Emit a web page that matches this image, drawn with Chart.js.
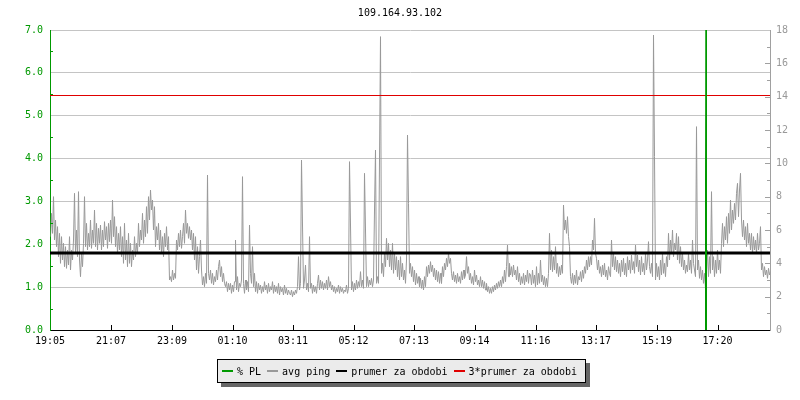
<!DOCTYPE html>
<html>
<head>
<meta charset="utf-8">
<script src="https://cdn.jsdelivr.net/npm/chart.js@4.4.1/dist/chart.umd.min.js"></script>
<style>
  body { margin: 0; background: #fff; }
  #wrap { position: relative; width: 800px; height: 400px; }
  #legend {
    position: absolute; left: 217px; top: 359px; height: 22px;
    display: flex; align-items: center; white-space: nowrap;
    padding: 0 8px 0 4px; background: #ebebeb; border: 1px solid #000;
    box-shadow: 4px 4px 0 #666;
    font: 10px "DejaVu Sans Mono", monospace; color: #000;
  }
  #legend .item { display: flex; align-items: center; margin-right: 6px; }
  #legend .item:last-child { margin-right: 0; }
  #legend .sw { width: 11px; height: 2px; margin-right: 4px; }
</style>
</head>
<body>
<div id="wrap">
  <canvas id="pingChart" width="800" height="400"></canvas>
  <div id="legend"></div>
</div>
<script>
const chartTitle = "109.164.93.102";
const xTickLabels = ["19:05", "21:07", "23:09", "01:10", "03:11", "05:12", "07:13", "09:14", "11:16", "13:17", "15:19", "17:20"];
const spanMinutes = 1440;
const sampleStep = 2; // minutes between ping samples

// avg ping [ms], right axis, one value every 2 minutes from 19:05 (one row = 2 hours)
const avgPing = [
  5.6,7.0,5.8,8.0,5.4,6.6,5.0,6.2,4.4,5.8, 4.0,5.6,4.2,5.2,3.8,5.0,3.7,4.8,3.9,5.6,
  3.6,4.8,4.2,5.4,8.2,4.6,6.0,4.4,8.3,4.2, 3.2,4.6,3.8,5.2,8.0,5.0,6.4,4.8,5.8,5.0,
  6.6,4.9,6.0,5.2,7.2,5.0,6.4,4.8,6.1,5.2, 6.3,4.8,6.0,5.0,6.5,5.4,6.2,4.9,6.4,5.3,

  6.6,5.2,7.8,5.6,6.8,5.0,6.2,4.6,5.8,4.8, 6.2,4.4,5.6,4.0,6.4,4.2,5.4,3.8,5.8,4.0,
  5.2,3.8,4.8,4.2,5.6,4.4,5.2,4.6,6.4,5.0, 6.0,5.4,7.0,5.2,6.6,5.6,7.4,5.8,8.0,6.6,
  8.4,7.2,7.8,6.0,7.4,5.0,6.2,5.4,6.4,4.8, 6.0,4.6,5.6,4.4,5.8,5.0,6.2,4.8,5.6,3.0,

  3.2,2.9,3.6,3.0,3.4,3.1,5.4,4.8,5.8,5.0, 6.0,4.9,5.6,6.4,5.2,7.2,5.8,6.4,5.5,6.2,
  5.4,6.0,4.8,5.8,4.2,5.6,3.6,5.0,3.4,4.4, 5.4,3.6,2.7,3.2,2.6,3.4,2.8,9.3,3.4,3.0,
  3.6,2.8,3.4,2.7,3.2,2.9,3.6,3.0,3.8,4.2, 3.2,3.8,2.9,3.4,2.8,2.6,2.9,2.3,2.8,2.4,

  2.8,2.2,2.7,2.3,2.9,5.4,2.4,3.2,2.3,2.8, 2.6,3.0,9.2,2.8,2.2,3.0,2.4,2.9,2.3,6.3,
  3.4,2.8,5.0,2.6,3.4,2.3,2.9,2.2,2.8,2.4, 2.7,2.2,2.6,2.3,2.9,2.4,2.7,2.2,2.8,2.3,
  2.6,2.4,2.9,2.2,2.7,2.3,2.6,2.2,2.8,2.1, 2.6,2.3,2.5,2.1,2.7,2.2,2.5,2.1,2.4,2.2,

  2.1,2.4,2.0,2.3,2.1,2.4,2.2,2.6,4.4,2.4, 2.8,10.2,6.3,2.5,3.0,3.9,2.4,2.8,2.3,5.6,
  2.5,2.8,2.2,2.7,2.3,2.6,2.2,2.8,3.3,2.4, 3.0,2.5,2.9,2.4,2.8,2.5,3.0,2.4,3.2,2.6,
  2.9,2.4,2.7,2.3,2.6,2.2,2.5,2.3,2.7,2.2, 2.6,2.3,2.5,2.2,2.4,2.3,2.7,2.2,2.5,10.1,

  6.3,2.4,2.9,2.3,2.8,2.4,3.0,2.5,2.9,2.6, 3.5,2.6,3.0,2.5,9.4,6.0,2.6,3.2,2.6,3.0,
  2.7,3.1,2.6,3.0,7.2,10.8,2.8,3.2,2.8,10.2, 17.6,3.4,4.0,3.2,4.6,3.8,5.5,4.2,5.2,3.8,
  4.8,3.6,5.2,3.4,4.6,3.6,4.4,3.2,4.2,3.0, 4.4,3.2,4.0,3.0,3.6,2.8,4.2,11.7,7.6,3.4,

  4.0,3.2,3.8,2.9,3.6,2.7,3.4,2.8,3.2,2.6, 3.1,2.5,3.0,2.4,3.2,2.6,3.8,3.2,3.9,3.4,
  4.1,3.5,3.9,3.2,3.7,3.0,3.6,2.9,3.5,2.8, 3.4,2.8,3.8,3.2,4.0,3.6,4.3,3.8,4.6,4.0,
  4.3,3.4,3.0,3.5,2.9,3.3,2.8,3.4,2.9,3.2, 2.8,3.5,3.0,3.6,3.1,3.3,4.4,3.4,3.8,3.0,

  3.4,2.8,3.2,2.7,3.6,2.9,3.3,2.7,3.0,2.6, 3.2,2.6,3.0,2.5,2.9,2.4,2.8,2.3,2.6,2.2,
  2.5,2.2,2.6,2.3,2.7,2.4,2.8,2.5,2.9,2.6, 3.0,2.6,3.2,2.8,3.6,2.9,3.8,5.1,3.2,4.0,
  3.3,3.8,3.2,3.9,3.3,3.6,3.0,3.8,2.9,3.4, 2.7,3.2,2.8,3.4,2.7,3.3,2.9,3.6,2.8,3.4,

  3.3,2.7,3.6,2.8,3.3,2.6,3.8,2.7,3.4,2.8, 4.2,2.9,3.3,2.7,3.2,2.6,3.1,2.6,3.4,5.8,
  3.6,4.8,3.5,4.4,3.6,5.0,3.4,4.0,3.2,3.8, 3.3,3.9,3.4,7.5,6.0,6.6,5.8,6.8,5.6,5.0,
  3.2,2.8,3.4,2.7,3.3,2.8,3.6,2.7,3.2,3.0, 3.5,2.9,3.6,3.1,3.8,3.4,4.2,3.6,4.4,3.8,

  4.4,3.9,5.4,4.8,6.7,4.6,4.3,3.6,4.2,3.4, 3.8,3.2,3.9,3.3,4.0,3.2,3.6,3.0,3.8,3.4,
  3.2,5.4,3.8,4.6,3.6,4.4,3.5,4.2,3.4,4.0, 3.2,4.2,3.5,4.3,3.3,4.0,3.2,4.4,3.6,4.2,
  3.4,4.5,3.6,4.1,3.4,5.1,3.8,4.5,3.5,4.2, 3.3,4.4,3.5,4.0,3.3,4.6,3.6,4.2,5.3,3.8,

  3.4,4.0,3.2,17.7,10.4,3.0,4.0,3.2,3.8,3.0, 4.2,3.3,4.6,3.4,4.0,3.2,4.4,3.8,5.8,4.2,
  5.4,4.6,6.0,4.4,5.2,4.8,5.8,4.2,5.6,4.0, 5.0,3.8,4.6,3.6,4.2,3.4,3.9,3.5,4.6,3.6,
  4.2,3.4,5.4,4.0,3.6,3.2,12.2,3.6,4.2,3.1, 3.8,3.0,3.6,2.8,3.4,2.5,3.6,4.8,3.2,4.4,

  3.4,8.3,3.6,4.4,3.2,4.2,3.4,4.8,3.6,4.2, 3.4,5.2,6.4,5.0,6.2,5.4,6.8,5.2,7.0,5.8,
  7.8,6.0,7.2,6.4,7.6,6.6,8.2,8.8,6.8,8.4, 9.4,6.6,5.6,6.6,5.4,6.2,5.0,6.4,5.2,5.8,
  4.8,5.8,4.6,5.6,4.8,5.4,4.6,5.8,4.8,5.2, 6.2,3.6,4.0,3.2,3.8,3.3,3.6,3.1,3.7,3.3,
  3.5
];

// packet loss [%], left axis, only around the one event
const plMinutes = [1310, 1311, 1312, 1313];
const plValues = [0, 3.5, 7.0, 0];

const prumer = 4.62;          // prumer za obdobi [ms]
const trojPrumer = 14.07;     // 3*prumer za obdobi [ms]

const colors = {
  pl: "#009900",
  ping: "#999999",
  prumer: "#000000",
  troj: "#e00000"
};

function tickMinutes(labels) {
  const toMin = s => { const [h, m] = s.split(":").map(Number); return h * 60 + m; };
  const start = toMin(labels[0]);
  return labels.map(s => (toMin(s) - start + 1440) % 1440);
}
const xTickValues = tickMinutes(xTickLabels);

const font = { family: "'DejaVu Sans Mono', monospace", size: 10 };

// small inward tick marks like the original rrd-style graph
const tickMarks = {
  id: "tickMarks",
  afterDatasetsDraw(chart) {
    const { ctx, chartArea: a, scales } = chart;
    ctx.save();
    ctx.lineWidth = 1;
    ctx.strokeStyle = "#000";
    xTickValues.forEach((v, i) => {
      if (i === 0) return;
      const px = Math.round(scales.x.getPixelForValue(v)) + 0.5;
      ctx.beginPath(); ctx.moveTo(px, a.bottom - 5); ctx.lineTo(px, a.bottom); ctx.stroke();
    });
    ctx.strokeStyle = colors.pl;
    for (let v = 0.5; v < 7; v += 1) {
      const py = Math.round(scales.y.getPixelForValue(v)) + 0.5;
      ctx.beginPath(); ctx.moveTo(a.left, py); ctx.lineTo(a.left + 3, py); ctx.stroke();
    }
    ctx.strokeStyle = "#a0a0a0";
    for (let v = 1; v < 18; v++) {
      const py = Math.round(scales.y1.getPixelForValue(v)) + 0.5;
      const len = v % 2 === 0 ? 5 : 3;
      ctx.beginPath(); ctx.moveTo(a.right - len, py); ctx.lineTo(a.right, py); ctx.stroke();
    }
    ctx.restore();
  }
};

// draw the 1px ping line on pixel centres so it stays crisp
const crispPing = {
  id: "crispPing",
  beforeDatasetDraw(chart, args) {
    if (args.index !== 1) return;
    chart.ctx.save();
    chart.ctx.translate(0.5, 0);
  },
  afterDatasetDraw(chart, args) {
    if (args.index !== 1) return;
    chart.ctx.restore();
  }
};

const datasets = [
  {
    label: "% PL",
    data: plMinutes.map((m, i) => ({ x: m, y: plValues[i] })),
    yAxisID: "y",
    borderColor: colors.pl,
    borderWidth: 1,
    order: 0
  },
  {
    label: "avg ping",
    data: avgPing.map((v, i) => ({ x: i * sampleStep, y: v })),
    yAxisID: "y1",
    borderColor: colors.ping,
    borderWidth: 1,
    order: 3
  },
  {
    label: "prumer za obdobi",
    data: [{ x: 0, y: prumer }, { x: spanMinutes, y: prumer }],
    yAxisID: "y1",
    borderColor: colors.prumer,
    borderWidth: 3,
    order: 2
  },
  {
    label: "3*prumer za obdobi",
    data: [{ x: 0, y: trojPrumer }, { x: spanMinutes, y: trojPrumer }],
    yAxisID: "y1",
    borderColor: colors.troj,
    borderWidth: 1,
    order: 1
  }
];

const ctx = document.getElementById("pingChart").getContext("2d");
const chart = new Chart(ctx, {
  type: "line",
  data: { datasets: datasets },
  options: {
    responsive: false,
    animation: false,
    devicePixelRatio: 1,
    elements: { point: { radius: 0 }, line: { tension: 0, borderCapStyle: "butt" } },
    layout: { padding: 0 },
    plugins: {
      legend: { display: false },
      tooltip: { enabled: false },
      title: {
        display: true,
        text: chartTitle,
        color: "#000",
        font: { family: font.family, size: 10, weight: "normal" },
        padding: { top: 7, bottom: 11 }
      }
    },
    scales: {
      x: {
        type: "linear",
        min: 0,
        max: spanMinutes,
        afterBuildTicks: scale => { scale.ticks = xTickValues.map(v => ({ value: v })); },
        afterFit: scale => { scale.height = 70; },
        ticks: {
          autoSkip: false,
          maxRotation: 0,
          color: "#000",
          font: font,
          padding: 5,
          callback: (v, i) => xTickLabels[i]
        },
        grid: { display: false, drawTicks: false },
        border: { color: "#000", width: 1 }
      },
      y: {
        position: "left",
        min: 0,
        max: 7,
        afterFit: scale => { scale.width = 50; },
        ticks: {
          stepSize: 1,
          color: colors.pl,
          font: font,
          padding: 7,
          callback: v => v.toFixed(1)
        },
        grid: { color: "#c4c4c4", drawTicks: false },
        border: { color: colors.pl, width: 1 }
      },
      y1: {
        position: "right",
        min: 0,
        max: 18,
        afterFit: scale => { scale.width = 30; },
        ticks: { stepSize: 2, color: "#999", font: font, padding: 6 },
        grid: { drawOnChartArea: false, drawTicks: false },
        border: { color: "#a0a0a0", width: 1 }
      }
    }
  },
  plugins: [tickMarks, crispPing]
});

// legend box under the chart
const legend = document.getElementById("legend");
datasets.forEach(ds => {
  const item = document.createElement("span");
  item.className = "item";
  item.innerHTML = '<span class="sw" style="background:' + ds.borderColor + '"></span>' + ds.label;
  legend.appendChild(item);
});
</script>
</body>
</html>
